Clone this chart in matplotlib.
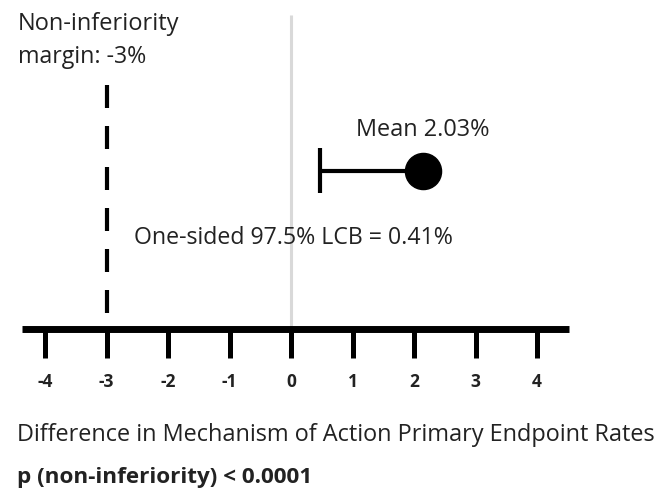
import matplotlib
matplotlib.use("Agg")
import matplotlib.pyplot as plt

plt.rcParams['font.family'] = ['Open Sans', 'DejaVu Sans']

# Data
ticks = [-4, -3, -2, -1, 0, 1, 2, 3, 4]
tick_labels = ['-4', '-3', '-2', '-1', '0', '1', '2', '3', '4']
margin = -3.0
mean_pos = 2.15
lcb_pos = 0.47
mean_label = "Mean 2.03%"
lcb_label = "One-sided 97.5% LCB = 0.41%"
margin_label = ["Non-inferiority", "margin: -3%"]
xlabel = "Difference in Mechanism of Action Primary Endpoint Rates"
ptext = "p (non-inferiority) < 0.0001"

W, H = 656, 493
fig = plt.figure(figsize=(W / 100, H / 100), dpi=100)

def px_x(p):
    return p / W

def px_y(p):
    return 1 - p / H

ax = fig.add_axes([px_x(22), px_y(329), (569 - 22) / W, (329 - 10) / H])
ax.set_xlim(-4.374, 4.52)
ax.set_ylim(0, 1)

for s in ['top', 'left', 'right']:
    ax.spines[s].set_visible(False)
ax.spines['bottom'].set_linewidth(5)
ax.spines['bottom'].set_capstyle('butt')
ax.set_yticks([])
ax.set_xticks(ticks)
ax.set_xticklabels(tick_labels, fontweight='bold', fontsize=12.5, color='#222222')
ax.tick_params(axis='x', direction='out', length=21, width=3.6, pad=11, color='black')

# zero reference line
ax.plot([0, 0], [0, 0.984], color='#d9d9d9', lw=2.2, zorder=1, solid_capstyle='butt')

# non-inferiority margin dashed line
ln, = ax.plot([margin, margin], [0.05, 0.771], color='black', lw=3, zorder=2,
              dash_capstyle='butt')
ln.set_dashes((23 * 0.72 / 3, 18 * 0.72 / 3))

# LCB to mean
ax.plot([lcb_pos, mean_pos], [0.495, 0.495], color='black', lw=3, zorder=3,
        solid_capstyle='butt')
ax.plot([lcb_pos, lcb_pos], [0.426, 0.567], color='black', lw=3, zorder=3,
        solid_capstyle='butt')
ax.plot([mean_pos], [0.495], marker='o', markersize=26, color='black', zorder=4)

renderer = fig.canvas.get_renderer()

def fit_text(x0, x1, yc, s, bold=False):
    t = fig.text(px_x(x0), px_y(yc), s, fontsize=12, va='center', ha='left',
                 color='#222222', fontweight='bold' if bold else 'normal')
    w = t.get_window_extent(renderer).width
    t.set_fontsize(12 * (x1 - x0) / w)
    return t

fit_text(356, 490, 130, mean_label)
fit_text(134, 452, 238, lcb_label)
fit_text(18, 178, 24, margin_label[0])
fit_text(18, 146, 57, margin_label[1])
fit_text(17, 653, 435, xlabel)
fit_text(17, 312, 478, ptext, bold=True)

fig.savefig('out.png', dpi=100)
